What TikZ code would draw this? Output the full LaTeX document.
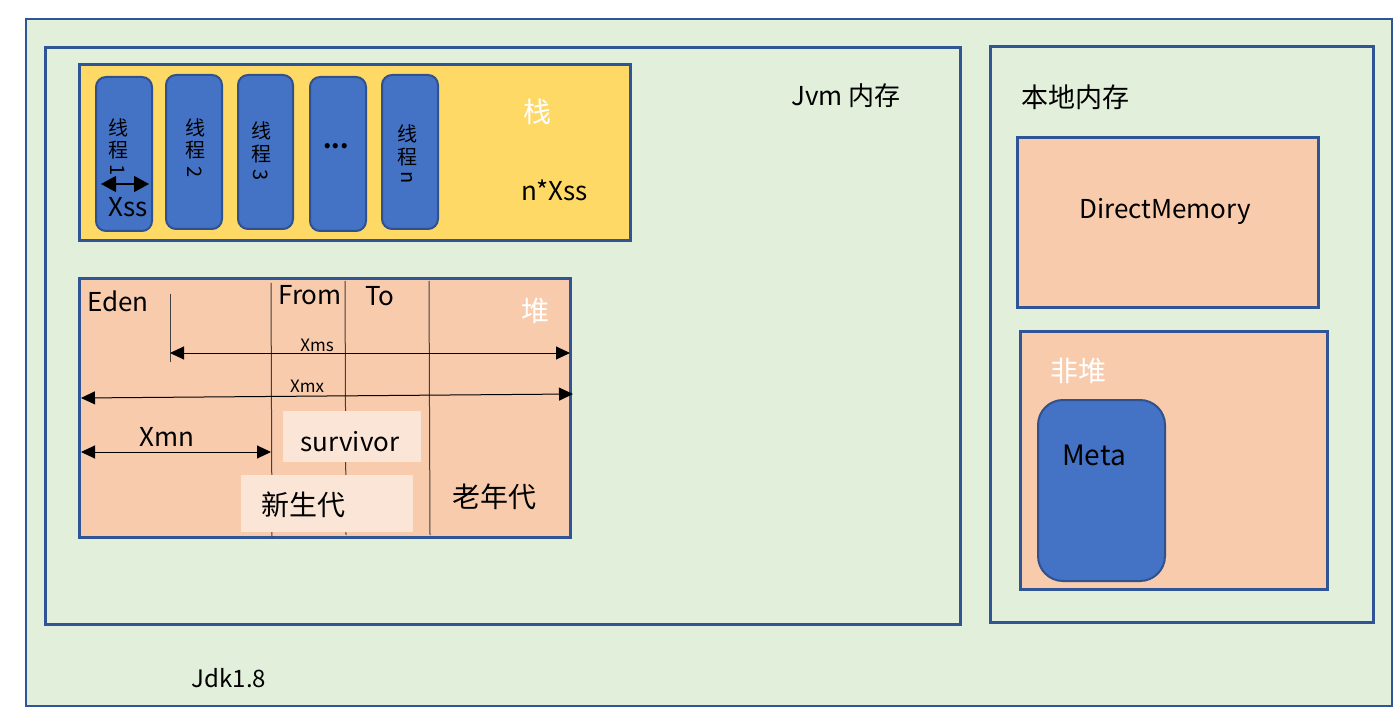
\documentclass[tikz,border=0pt]{standalone}
\usepackage{fontspec}
\setmainfont{Noto Sans CJK SC}
\usetikzlibrary{arrows.meta}
\definecolor{bg}{HTML}{E2EFDA}
\definecolor{frame}{HTML}{2F5597}
\definecolor{stackc}{HTML}{FFD966}
\definecolor{peach}{HTML}{F8CBAD}
\definecolor{lightp}{HTML}{FBE5D6}
\definecolor{thread}{HTML}{4472C4}
\definecolor{threadb}{HTML}{2F528F}
\tikzset{
  box/.style={draw=frame,line width=3pt},
  tbox/.style={draw=threadb,fill=thread,line width=2pt,rounded corners=10pt},
  lbl/.style={inner sep=0pt,font=\fontsize{26}{30}\selectfont},
  big/.style={inner sep=0pt,font=\fontsize{28}{32}\selectfont},
  small/.style={inner sep=0pt,font=\fontsize{17}{20}\selectfont},
  tl/.style={inner sep=0pt,font=\fontsize{20}{22}\selectfont},
  vline/.style={draw=black!75,line width=1pt},
  dim/.style={line width=1pt,{Triangle[length=14pt,width=13pt]}-{Triangle[length=14pt,width=13pt]}},
}
\begin{document}
\begin{tikzpicture}[x=1pt,y=-1pt]
\useasboundingbox (0,0) rectangle (1400,719);
\fill[white] (0,0) rectangle (1400,719);
% outer frame
\draw[fill=bg,draw=frame,line width=2pt] (26,19) rectangle (1392,706);
% jvm and native boxes
\draw[box,fill=bg] (45,48) rectangle (960,624);
\draw[box,fill=bg] (990,47) rectangle (1373,622);
\node[lbl] (jvm) at (846,96) {Jvm 内存};
\node[big,font=\fontsize{27}{30}\selectfont] (native) at (1075,97) {本地内存};
\node[lbl,font=\fontsize{24}{28}\selectfont] (jdk) at (229,678) {Jdk1.8};
% stack
\draw[box,fill=stackc] (79,65) rectangle (630,241);
\draw[tbox] (96,77) rectangle (152,231);
\draw[tbox] (166,75) rectangle (222,229);
\draw[tbox] (238,75) rectangle (293,229);
\draw[tbox] (310,77) rectangle (366,231);
\draw[tbox] (382,75) rectangle (438,229);
\node[tl] (t1a) at (118,128) {线};
\node[tl] (t1b) at (118,150) {程};
\node[tl,rotate=-90] (t1c) at (118,170) {1};
\node[tl] (t2a) at (195,128) {线};
\node[tl] (t2b) at (195,150) {程};
\node[tl,rotate=-90] (t2c) at (195,172) {2};
\node[tl] (t3a) at (261,131) {线};
\node[tl] (t3b) at (261,154) {程};
\node[tl,rotate=-90] (t3c) at (261,175) {3};
\node[inner sep=0pt,font=\fontsize{24}{26}\selectfont\bfseries] (tdots) at (336,146) {...};
\node[tl] (tna) at (407,134) {线};
\node[tl] (tnb) at (407,157) {程};
\node[tl,rotate=-90] (tnc) at (407,178) {n};
\coordinate (xssL) at (101,184);
\coordinate (xssR) at (149,184);
\draw[line width=1.5pt,{Triangle[length=15pt,width=16pt]}-{Triangle[length=15pt,width=16pt]}] (xssL) -- (xssR);
\node[lbl] (xss) at (128,207) {Xss};
\node[big,text=white] (zhan) at (537,112) {栈};
\node[lbl] (nxss) at (555,190) {n*Xss};
% heap
\draw[box,fill=peach] (79,279) rectangle (570,537);
\coordinate (v1t) at (271,283); \coordinate (v1b) at (272,537);
\coordinate (v2t) at (345,281); \coordinate (v2b) at (346,535);
\coordinate (v3t) at (429,281); \coordinate (v3b) at (430,535);
\coordinate (edt) at (170,294); \coordinate (edb) at (170,362);
\draw[vline] (v1t) -- (v1b);
\draw[vline] (v2t) -- (v2b);
\draw[vline] (v3t) -- (v3b);
\draw[vline] (edt) -- (edb);
\node[lbl] (eden) at (118,301) {Eden};
\node[lbl] (from) at (310,295) {From};
\node[lbl] (to) at (380,296) {To};
\node[big,text=white] (dui) at (535,311) {堆};
\coordinate (xmsL) at (170,353); \coordinate (xmsR) at (570,353);
\draw[dim] (xmsL) -- (xmsR);
\node[small] (xms) at (317,345) {Xms};
\coordinate (xmxL) at (81,398); \coordinate (xmxR) at (573,394);
\draw[dim] (xmxL) -- (xmxR);
\node[small] (xmx) at (307,386) {Xmx};
\coordinate (xmnL) at (81,452); \coordinate (xmnR) at (271,452);
\draw[dim] (xmnL) -- (xmnR);
\node[lbl] (xmn) at (167,437) {Xmn};
\fill[lightp] (283,411) rectangle (421,462);
\node[lbl] (surv) at (350,442) {survivor};
\fill[lightp] (241,475) rectangle (413,532);
\node[big] (young) at (303,505) {新生代};
\node[big] (old) at (494,497) {老年代};
% native memory
\draw[box,fill=peach] (1017,138) rectangle (1318,308);
\node[lbl] (dm) at (1165,211) {DirectMemory};
\draw[box,fill=peach] (1020,331) rectangle (1327,589);
\node[big,text=white] (feidui) at (1078,371) {非堆};
\draw[draw=threadb,fill=thread,line width=2pt,rounded corners=25pt] (1038,400) rectangle (1165,581);
\node[big] (meta) at (1094,455) {Meta};
\end{tikzpicture}
\end{document}
